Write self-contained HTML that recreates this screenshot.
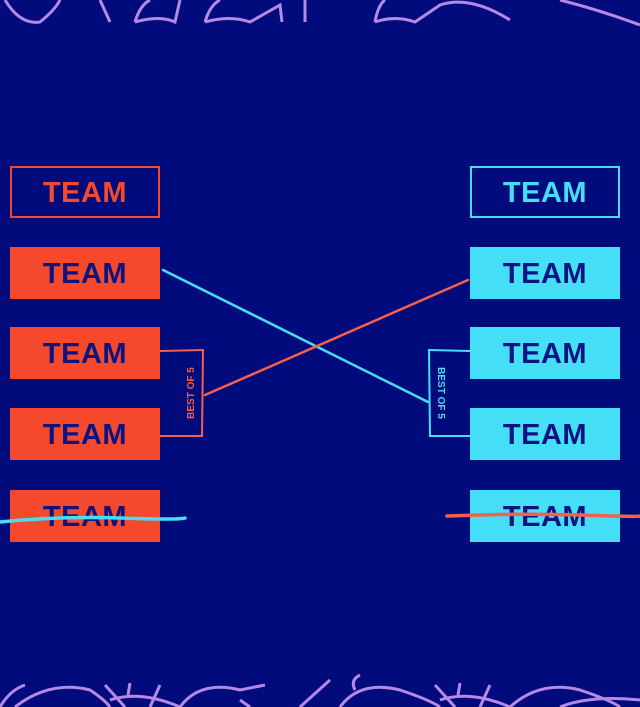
<!DOCTYPE html>
<html><head><style>
body{margin:0;width:640px;height:707px;background:#020b7c;overflow:hidden;position:relative;font-family:"Liberation Sans",sans-serif}
.b{position:absolute;width:150px;height:52px;box-sizing:border-box;display:flex;align-items:center;justify-content:center;font-weight:bold;font-size:29px;letter-spacing:0.5px;padding-top:3px}
.r{left:10px;background:#f4492c;color:#0d1480}
.c{left:470px;background:#45def7;color:#0d1480}
svg{position:absolute;left:0;top:0}
</style></head><body>
<div class="b" style="left:10px;top:166px;border:2.5px solid #f4492c;color:#f4492c">TEAM</div>
<div class="b r" style="top:247px">TEAM</div>
<div class="b r" style="top:327px">TEAM</div>
<div class="b r" style="top:408px">TEAM</div>
<div class="b r" style="top:490px">TEAM</div>
<div class="b" style="left:470px;top:166px;border:2.5px solid #45def7;color:#45def7">TEAM</div>
<div class="b c" style="top:247px">TEAM</div>
<div class="b c" style="top:327px">TEAM</div>
<div class="b c" style="top:408px">TEAM</div>
<div class="b c" style="top:490px">TEAM</div>
<svg width="640" height="707" viewBox="0 0 640 707">
<g fill="none" stroke="#b589e6" stroke-width="3">
<path d="M5 0 Q20 25 40 22 Q55 10 60 0"/>
<path d="M100 0 L110 22"/>
<path d="M135 22 Q140 5 150 0 M135 22 Q160 15 175 22 L180 0"/>
<path d="M205 22 Q210 5 220 0 M205 22 Q230 15 250 22 L280 5 L282 22"/>
<path d="M305 0 L305 22"/>
<path d="M375 22 Q378 5 385 0 M375 22 Q395 15 415 22 L440 5 Q470 -5 510 20"/>
<path d="M560 0 Q600 10 640 25"/>
<path d="M0 707 Q10 690 25 685 M15 707 Q50 680 90 690 Q105 700 110 707"/>
<path d="M105 685 L125 707 M130 683 L128 695 M160 685 L150 707 M110 700 Q140 690 180 707"/>
<path d="M180 707 Q200 680 240 690 L265 685 M240 700 L250 707"/>
<path d="M330 680 L300 707"/>
<path d="M340 707 Q360 680 400 690 Q430 700 440 707 M355 690 Q350 680 360 675"/>
<path d="M435 685 L455 707 M460 683 L458 695 M490 685 L480 707 M440 700 Q470 690 510 707"/>
<path d="M510 707 Q540 680 580 690 Q610 700 620 707 M560 707 Q590 695 640 700"/>
</g>
<g fill="none" stroke-width="2.5" stroke-linecap="round">
<path d="M163 270 L428 402" stroke="#45def7"/>
<path d="M205 395 L468 280" stroke="#f4604a"/>
<path d="M160 351 L203 350 L202 436 L160 436" stroke="#f4604a" stroke-width="2"/>
<path d="M470 351 L429 350 L430 436 L470 436" stroke="#45def7" stroke-width="2"/>
<path d="M0 522 Q60 516 120 518 T185 518" stroke="#45def7" stroke-width="3.5"/>
<path d="M447 516 Q520 513 580 515 T640 516" stroke="#f4604a" stroke-width="3.5"/>
</g>
<text transform="translate(194,393) rotate(-90)" text-anchor="middle" font-family="Liberation Sans" font-weight="bold" font-size="10" fill="#f4604a">BEST OF 5</text>
<text transform="translate(438,393) rotate(90)" text-anchor="middle" font-family="Liberation Sans" font-weight="bold" font-size="10" fill="#45def7">BEST OF 5</text>
</svg>
</body></html>
